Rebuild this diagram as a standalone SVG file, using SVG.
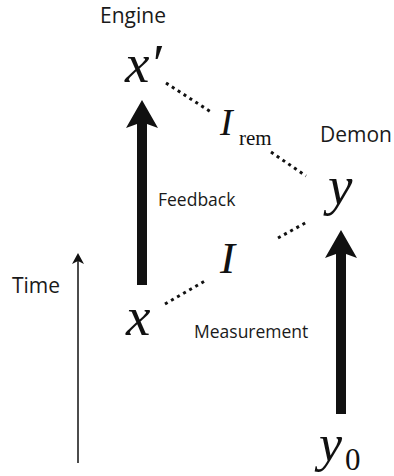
<svg xmlns="http://www.w3.org/2000/svg" width="394" height="476" viewBox="0 0 394 476">
<style>
.lbl{font-family:"Open Sans","Noto Sans",sans-serif;fill:#1a1a1a}
.big{font-size:21px}
.sm{font-size:17.5px}
.math{font-family:"Liberation Serif","Times New Roman",serif;font-style:italic;fill:#111}
.rm{font-family:"Liberation Serif","Times New Roman",serif;font-style:normal;fill:#111}
.dot{fill:none;stroke:#111;stroke-width:3;stroke-dasharray:3 4}
.thick{fill:none;stroke:#111;stroke-width:10}
</style>
<defs>
<marker id="big-head" markerUnits="userSpaceOnUse" markerWidth="32" markerHeight="34" viewBox="0 -17 32 34" refX="4" refY="0" orient="auto">
<path d="M28,0 L0,-16 L4,-5 L4,5 L0,16 Z" fill="#111"/>
</marker>
<marker id="thin-head" markerUnits="userSpaceOnUse" markerWidth="14" markerHeight="14" viewBox="0 -7 14 14" refX="3" refY="0" orient="auto">
<path d="M11,0 L0,-6 L3,0 L0,6 Z" fill="#111"/>
</marker>
</defs>
<g id="connectors">
<path id="feedback-arrow" class="thick" d="M142,285 L142,124" marker-end="url(#big-head)"/>
<path id="measurement-arrow" class="thick" d="M341,414 L341,254" marker-end="url(#big-head)"/>
<path class="dot" d="M166,83 L211,112"/>
<path class="dot" d="M271,152 L306,176"/>
<path class="dot" d="M278,238 L307,222"/>
<path class="dot" d="M165,304 L205,281"/>
</g>
<g id="time-axis">
<path d="M78,463 L78,261" stroke="#111" stroke-width="1.5" fill="none" marker-end="url(#thin-head)"/>
<text class="lbl big" x="12" y="293">Time</text>
</g>
<g id="engine-label"><text class="lbl big" x="100" y="23">Engine</text></g>
<g id="demon-label"><text class="lbl big" x="320" y="142">Demon</text></g>
<g id="feedback-label"><text class="lbl sm" x="158" y="206">Feedback</text></g>
<g id="measurement-label"><text class="lbl sm" x="194" y="338">Measurement</text></g>
<g id="node-xprime"><text class="math" x="125" y="82" font-size="55">x′</text></g>
<g id="node-x"><text class="math" x="126" y="335" font-size="55">x</text></g>
<g id="node-y"><text class="math" x="328" y="204" font-size="55">y</text></g>
<g id="node-y0"><text class="math" x="319" y="461" font-size="52">y</text><text class="rm" x="345" y="470" font-size="31">0</text></g>
<g id="node-I"><text class="math" x="220" y="273" font-size="45">I</text></g>
<g id="node-Irem"><text class="math" x="220" y="135" font-size="38">I</text><text class="rm" x="239" y="145" font-size="21">rem</text></g>
</svg>
